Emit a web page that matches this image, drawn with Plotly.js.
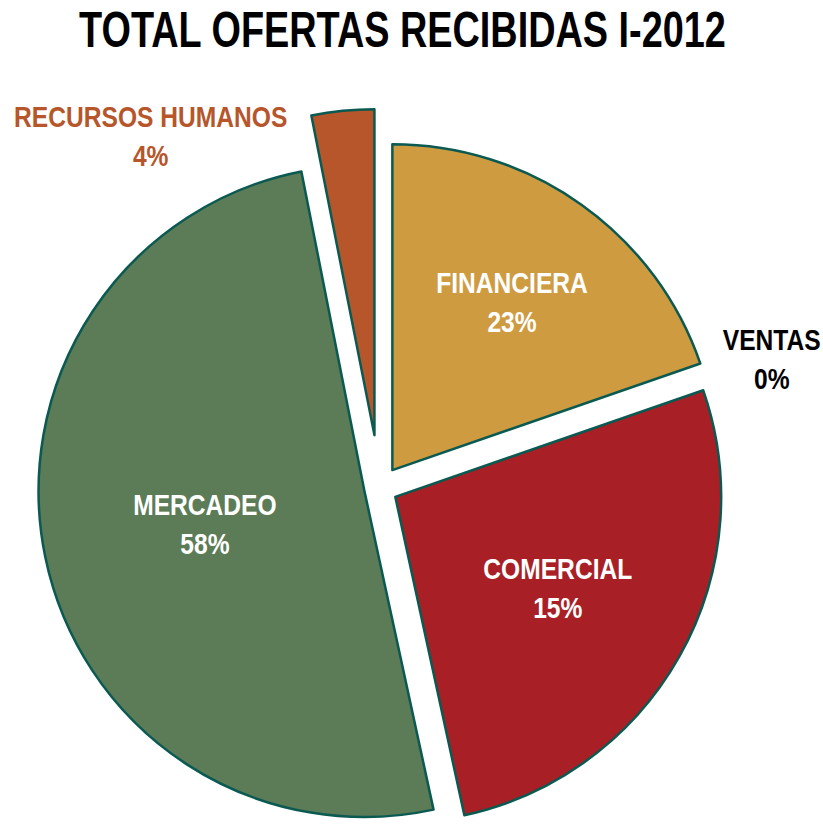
<!DOCTYPE html>
<html>
<head>
<meta charset="utf-8">
<script src="https://cdn.plot.ly/plotly-3.0.1.min.js"></script>
<style>
html, body { margin: 0; padding: 0; background: #ffffff; overflow: hidden; }
#wrap { width: 823px; height: 824px; overflow: hidden; position: relative; }
#chart { width: 823px; height: 880px; }
</style>
</head>
<body>
<div id="wrap"><div id="chart"></div></div>
<script>
// Categories, clockwise from 12 o'clock
const categories = ['FINANCIERA', 'VENTAS', 'COMERCIAL', 'MERCADEO', 'RECURSOS HUMANOS'];
// Slice sizes as drawn in the picture (share of the circle, %)
const sliceValues = [19.7, 0, 26.9, 50.3, 3.1];
// Percent labels printed on the chart
const printedPercent = ['23%', '0%', '15%', '58%', '4%'];

const sliceColors = ['#CE9B41', '#888888', '#A81F25', '#5C7B57', '#B6562A'];
const textColors = ['#ffffff', '#000000', '#ffffff', '#ffffff', '#B6562A'];
const FONT = "'Liberation Sans', Arial, Helvetica, sans-serif";
const H = 880;

const trace = {
  type: 'pie',
  labels: categories,
  values: sliceValues,
  text: printedPercent,
  texttemplate: '%{label}<br>%{text}',
  textposition: ['inside', 'none', 'inside', 'inside', 'none'],
  insidetextorientation: 'horizontal',
  textfont: { family: FONT, size: 30, color: textColors, weight: 'bold' },
  sort: false,
  direction: 'clockwise',
  rotation: 0,
  pull: [0.0675, 0.0, 0.0552, 0.0475, 0.163],
  marker: { colors: sliceColors, line: { color: '#0B5A52', width: [2.5, 0, 2.5, 2.5, 2.5] } },
  domain: { x: [0.00073, 0.92175], y: [0.014773, 0.87614] },
  hoverinfo: 'none',
  automargin: false
};

function outsideLabel(i, xpx, ypx) {
  return {
    text: categories[i] + '<br>' + printedPercent[i],
    xref: 'paper', yref: 'paper',
    x: xpx / 823, y: (H - ypx) / H,
    xanchor: 'center', yanchor: 'middle',
    showarrow: false,
    align: 'center',
    font: { family: FONT, size: 30, color: textColors[i], weight: 'bold' }
  };
}

const layout = {
  width: 823,
  height: H,
  margin: { l: 0, r: 0, t: 0, b: 0, pad: 0 },
  paper_bgcolor: '#ffffff',
  showlegend: false,
  title: {
    text: 'TOTAL OFERTAS RECIBIDAS I-2012',
    font: { family: FONT, size: 50, color: '#000000', weight: 'bold' },
    xref: 'container', yref: 'container',
    x: 0.489, xanchor: 'center',
    y: 1 - 30 / H, yanchor: 'middle'
  },
  annotations: [outsideLabel(4, 150, 136), outsideLabel(1, 771, 359)]
};

// condense text horizontally around its own centre (the reference uses a condensed face)
function condense(el, s) {
  const parent = el.parentNode;
  if (!parent || !parent.getScreenCTM) return;
  const svg = el.ownerSVGElement;
  const r = el.getBoundingClientRect();
  if (!r.width) return;
  const pt = svg.createSVGPoint();
  pt.x = r.left + r.width / 2;
  pt.y = r.top + r.height / 2;
  const p = pt.matrixTransform(parent.getScreenCTM().inverse());
  const g = document.createElementNS('http://www.w3.org/2000/svg', 'g');
  g.setAttribute('transform',
    'translate(' + p.x + ',' + p.y + ') scale(' + s + ',1) translate(' + (-p.x) + ',' + (-p.y) + ')');
  parent.insertBefore(g, el);
  g.appendChild(el);
}

Plotly.newPlot('chart', [trace], layout, { displayModeBar: false, staticPlot: true }).then(function (gd) {
  gd.querySelectorAll('text.gtitle').forEach(function (t) { condense(t, 0.757); });
  gd.querySelectorAll('text.slicetext').forEach(function (t) { condense(t, 0.82); });
  gd.querySelectorAll('text.annotation-text').forEach(function (t) { condense(t, 0.82); });
});
</script>
</body>
</html>
